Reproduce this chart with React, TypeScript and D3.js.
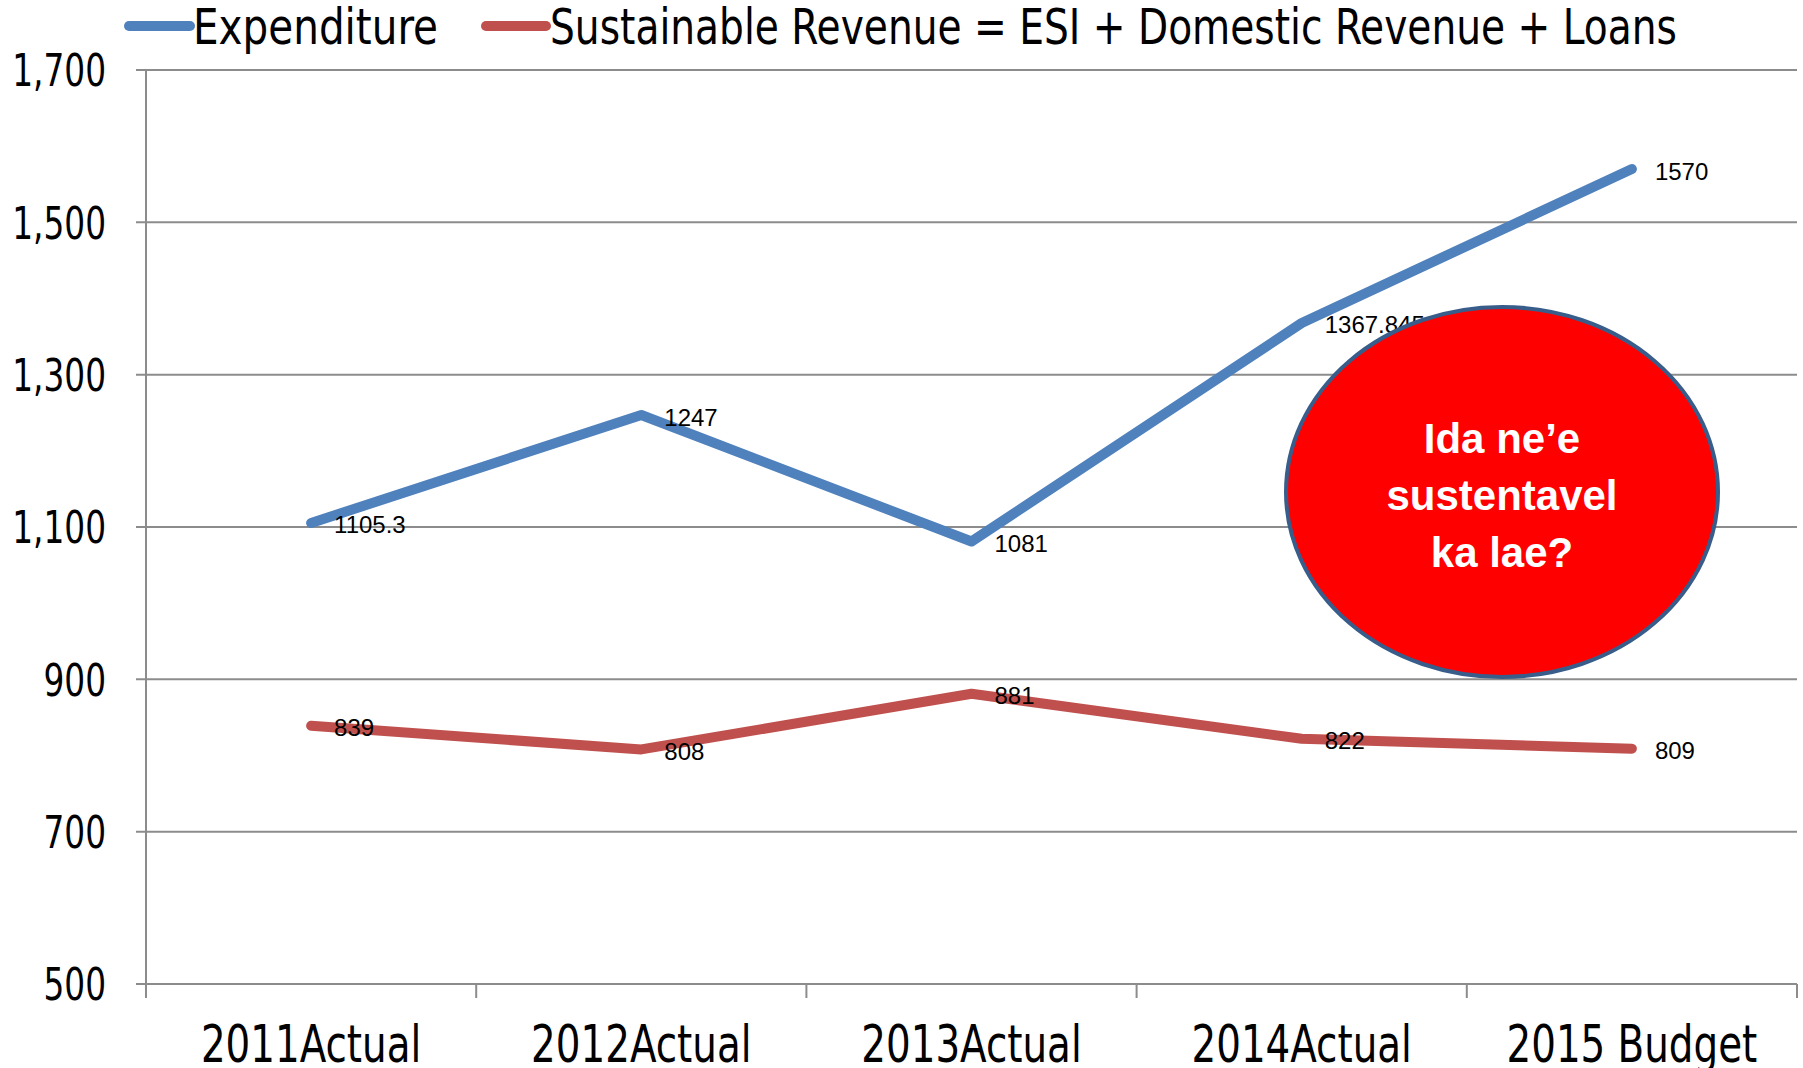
import { useEffect, useRef } from "react";
import * as d3 from "d3";

const categories = ["2011Actual", "2012Actual", "2013Actual", "2014Actual", "2015 Budget"];
const expenditure = [1105.3, 1247, 1081, 1367.8456, 1570];
const revenue = [839, 808, 881, 822, 809];
const yTicks = [500, 700, 900, 1100, 1300, 1500, 1700];
const seriesNames = ["Expenditure", "Sustainable Revenue = ESI + Domestic Revenue + Loans"];
const calloutLines = ["Ida ne\u2019e", "sustentavel", "ka lae?"];

const narrow = "'Liberation Sans Narrow', 'DejaVu Sans Condensed', sans-serif";

// squeeze text horizontally, the reference font is narrower than what we have
function squeeze(sel: any, k: number) {
  sel.each(function (this: SVGTextElement) {
    const w = this.getComputedTextLength();
    d3.select(this)
      .attr("textLength", w * k)
      .attr("lengthAdjust", "spacingAndGlyphs");
  });
}

function App() {
  const ref = useRef<SVGSVGElement>(null);

  const width = 1803;
  const height = 1068;
  const margin = { top: 70, right: 6, bottom: 84, left: 146 };

  useEffect(() => {
    const svg = d3.select(ref.current);
    svg.selectAll("*").remove();

    const x = d3.scaleBand<string>()
      .domain(categories)
      .range([margin.left, width - margin.right]);
    const cx = (c: string) => (x(c) as number) + x.bandwidth() / 2;

    const y = d3.scaleLinear()
      .domain([500, 1700])
      .range([height - margin.bottom, margin.top]);

    // gridlines + y ticks
    svg.append("g")
      .selectAll("line")
      .data(yTicks)
      .enter()
      .append("line")
      .attr("x1", margin.left - 10)
      .attr("x2", width - margin.right)
      .attr("y1", d => y(d))
      .attr("y2", d => y(d))
      .attr("stroke", "#8c8c8c")
      .attr("stroke-width", 2);

    // y axis line
    svg.append("line")
      .attr("x1", margin.left)
      .attr("x2", margin.left)
      .attr("y1", y(1700))
      .attr("y2", y(500) + 14)
      .attr("stroke", "#8c8c8c")
      .attr("stroke-width", 2);

    // x tick marks at band edges
    const edges = categories.map(c => x(c) as number).concat([width - margin.right]);
    svg.append("g")
      .selectAll("line")
      .data(edges.slice(1))
      .enter()
      .append("line")
      .attr("x1", d => d)
      .attr("x2", d => d)
      .attr("y1", y(500))
      .attr("y2", y(500) + 14)
      .attr("stroke", "#8c8c8c")
      .attr("stroke-width", 2);

    // y labels
    const yl = svg.append("g")
      .selectAll("text")
      .data(yTicks)
      .enter()
      .append("text")
      .attr("x", 106)
      .attr("y", d => y(d))
      .attr("dy", "0.36em")
      .attr("text-anchor", "end")
      .style("font-family", narrow)
      .style("font-size", "45px")
      .text(d => d3.format(",")(d));
    squeeze(yl, 0.81);

    // x labels
    const xl = svg.append("g")
      .selectAll("text")
      .data(categories)
      .enter()
      .append("text")
      .attr("x", d => cx(d))
      .attr("y", 1062)
      .attr("text-anchor", "middle")
      .style("font-family", narrow)
      .style("font-size", "52px")
      .text(d => d);
    squeeze(xl, 0.83);

    const series = [
      { name: seriesNames[0], values: expenditure, color: "#4F81BD" },
      { name: seriesNames[1], values: revenue, color: "#C0504D" },
    ];

    const line = d3.line<number>()
      .x((_, i) => cx(categories[i]))
      .y(d => y(d));

    series.forEach(s => {
      svg.append("path")
        .datum(s.values)
        .attr("d", line)
        .attr("fill", "none")
        .attr("stroke", s.color)
        .attr("stroke-width", 10)
        .attr("stroke-linejoin", "round")
        .attr("stroke-linecap", "round");

      svg.append("g")
        .selectAll("text")
        .data(s.values)
        .enter()
        .append("text")
        .attr("x", (_, i) => cx(categories[i]) + 23)
        .attr("y", d => y(d) + 2)
        .attr("dominant-baseline", "central")
        .style("font-family", "'Liberation Sans', Arial, sans-serif")
        .style("font-size", "24px")
        .text(d => String(d));
    });

    // legend
    const legendPos = [
      { x1: 129, x2: 190, tx: 193, w: 245 },
      { x1: 486, x2: 546, tx: 550, w: 1127 },
    ];
    series.forEach((s, i) => {
      const p = legendPos[i];
      svg.append("line")
        .attr("x1", p.x1)
        .attr("x2", p.x2)
        .attr("y1", 26)
        .attr("y2", 26)
        .attr("stroke", s.color)
        .attr("stroke-width", 10)
        .attr("stroke-linecap", "round");
      svg.append("text")
        .attr("x", p.tx)
        .attr("y", 26)
        .attr("dy", "0.36em")
        .attr("textLength", p.w)
        .attr("lengthAdjust", "spacingAndGlyphs")
        .style("font-family", narrow)
        .style("font-size", "50px")
        .text(s.name);
    });

    // callout ellipse
    const callout = svg.append("g");
    callout.append("ellipse")
      .attr("cx", 1502)
      .attr("cy", 492)
      .attr("rx", 216)
      .attr("ry", 185)
      .attr("fill", "#FF0000")
      .attr("stroke", "#385D8A")
      .attr("stroke-width", 4);
    callout.selectAll("text")
      .data(calloutLines)
      .enter()
      .append("text")
      .attr("x", 1502)
      .attr("y", (_, i) => 438 + i * 57)
      .attr("dy", "0.36em")
      .attr("text-anchor", "middle")
      .attr("fill", "#ffffff")
      .style("font-family", "'Liberation Sans', Arial, sans-serif")
      .style("font-weight", "bold")
      .style("font-size", "42px")
      .text(d => d);
  }, []);

  return (
    <div style={{ position: "absolute", left: 0, top: 0 }}>
      <svg ref={ref} width={width} height={height} style={{ display: "block", background: "#fff" }}></svg>
    </div>
  );
}

export default App;
